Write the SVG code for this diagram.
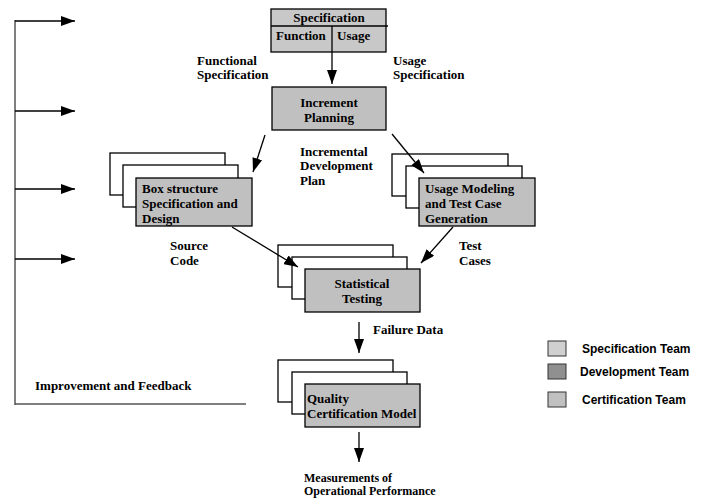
<svg xmlns="http://www.w3.org/2000/svg" width="726" height="499" viewBox="0 0 726 499">
<style>
.t{font-family:"Liberation Serif","Times New Roman",serif;font-weight:bold;font-size:13px;fill:#000}
.s{font-size:12px}
.c{text-anchor:middle}
.l{font-family:"Liberation Sans",Arial,sans-serif;font-weight:bold;font-size:12px;fill:#000}
.bk{fill:#fff;stroke:#000;stroke-width:1.3}
.fr{fill:#c0c0c0;stroke:#000;stroke-width:1.3}
.ln{stroke:#000;stroke-width:1.3;fill:none}
.fb{stroke:#555;stroke-width:1.5;fill:none}
</style>
<defs>
<marker id="ah" viewBox="0 0 14 10" refX="14" refY="5" markerWidth="14" markerHeight="10" markerUnits="userSpaceOnUse" orient="auto">
<path d="M0,0 L14,5 L0,10 Z" fill="#000"/>
</marker>
</defs>

<g id="specification">
<rect x="271" y="9" width="115" height="43" fill="#c8c8c8" stroke="#000" stroke-width="1.3"/>
<line class="ln" x1="271" y1="26" x2="388" y2="26"/>
<line class="ln" x1="332" y1="26" x2="332" y2="52"/>
<text class="t c" x="329" y="22">Specification</text>
<text class="t" x="276" y="40">Function</text>
<text class="t" x="337" y="40">Usage</text>
</g>

<g id="increment-planning">
<rect class="fr" x="272" y="87" width="114" height="43"/>
<text class="t c" x="329" y="107">Increment</text>
<text class="t c" x="329" y="122">Planning</text>
</g>

<g id="box-structure">
<rect class="bk" x="110" y="153" width="115" height="42"/>
<rect class="bk" x="123" y="165" width="115" height="42"/>
<rect class="fr" x="136" y="178" width="116" height="48"/>
<text class="t" x="142" y="193">Box structure</text>
<text class="t" x="142" y="208">Specification and</text>
<text class="t" x="142" y="223">Design</text>
</g>

<g id="usage-modeling">
<rect class="bk" x="392" y="154" width="116" height="42"/>
<rect class="bk" x="406" y="166" width="116" height="42"/>
<rect class="fr" x="419" y="178" width="116" height="48"/>
<text class="t" x="425" y="193">Usage Modeling</text>
<text class="t" x="425" y="208">and Test Case</text>
<text class="t" x="425" y="223">Generation</text>
</g>

<g id="statistical-testing">
<rect class="bk" x="278" y="245" width="115" height="42"/>
<rect class="bk" x="292" y="257" width="115" height="42"/>
<rect class="fr" x="305" y="269" width="115" height="43"/>
<text class="t c" x="362" y="288">Statistical</text>
<text class="t c" x="362" y="303">Testing</text>
</g>

<g id="quality-certification">
<rect class="bk" x="278" y="360" width="115" height="42"/>
<rect class="bk" x="292" y="372" width="115" height="42"/>
<rect class="fr" x="305" y="384" width="115" height="43"/>
<text class="t" x="307" y="403">Quality</text>
<text class="t" x="307" y="418">Certification Model</text>
</g>

<g id="connectors">
<line class="fb" x1="15" y1="20" x2="15" y2="405"/>
<line class="fb" x1="15" y1="404" x2="246" y2="404"/>
<line class="ln" x1="15" y1="21" x2="75" y2="21" marker-end="url(#ah)"/>
<line class="ln" x1="15" y1="111" x2="75" y2="111" marker-end="url(#ah)"/>
<line class="ln" x1="15" y1="189" x2="75" y2="189" marker-end="url(#ah)"/>
<line class="ln" x1="15" y1="259" x2="75" y2="259" marker-end="url(#ah)"/>
<line class="ln" x1="332" y1="52" x2="332" y2="84" marker-end="url(#ah)"/>
<line class="ln" x1="265" y1="135" x2="253" y2="172" marker-end="url(#ah)"/>
<line class="ln" x1="392" y1="134" x2="424" y2="173" marker-end="url(#ah)"/>
<line class="ln" x1="232" y1="227" x2="298" y2="267" marker-end="url(#ah)"/>
<line class="ln" x1="453" y1="227" x2="421" y2="263" marker-end="url(#ah)"/>
<line class="ln" x1="359" y1="322" x2="359" y2="353" marker-end="url(#ah)"/>
<line class="ln" x1="359" y1="432" x2="359" y2="462" marker-end="url(#ah)"/>
</g>

<g id="labels">
<text class="t" x="197" y="65">Functional</text>
<text class="t" x="197" y="79">Specification</text>
<text class="t" x="393" y="65">Usage</text>
<text class="t" x="393" y="79">Specification</text>
<text class="t" x="300" y="156">Incremental</text>
<text class="t" x="300" y="170">Development</text>
<text class="t" x="300" y="185">Plan</text>
<text class="t" x="170" y="250">Source</text>
<text class="t" x="170" y="265">Code</text>
<text class="t" x="459" y="250">Test</text>
<text class="t" x="459" y="265">Cases</text>
<text class="t" x="373" y="334">Failure Data</text>
<text class="t" x="35" y="390">Improvement and Feedback</text>
<text class="t s" x="304" y="482">Measurements of</text>
<text class="t s" x="304" y="495">Operational Performance</text>
</g>

<g id="legend">
<rect x="548" y="341" width="18" height="15" fill="#d0d0d0" stroke="#333" stroke-width="1"/>
<rect x="548" y="364" width="18" height="15" fill="#909090" stroke="#333" stroke-width="1"/>
<rect x="548" y="392" width="18" height="15" fill="#c0c0c0" stroke="#333" stroke-width="1"/>
<text class="l" x="582" y="353">Specification Team</text>
<text class="l" x="580" y="376">Development Team</text>
<text class="l" x="582" y="404">Certification Team</text>
</g>
</svg>
